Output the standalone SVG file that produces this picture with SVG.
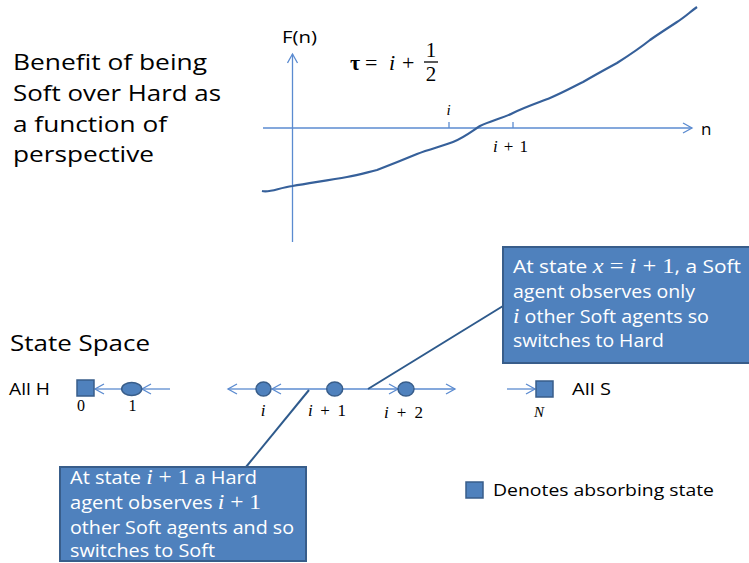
<svg xmlns="http://www.w3.org/2000/svg" width="749" height="563" viewBox="0 0 749 563">
<defs>
<style>
.t{font-family:"Open Sans","Liberation Sans",sans-serif;fill:#000}
.m{font-family:"Liberation Serif",serif;font-style:italic;fill:#000}
.mr{font-family:"Liberation Serif",serif;fill:#000}
.wt{font-family:"Open Sans","Liberation Sans",sans-serif;fill:#fff;font-size:18px}
.wm{font-family:"Liberation Serif",serif;fill:#fff;font-size:21px}
.ax{stroke:#5B8BD0;stroke-width:1.3;fill:none}
.ln{stroke:#5B8BD0;stroke-width:1.3;fill:none;marker-end:url(#ah)}
.node{fill:#4F81BD;stroke:#385D8A;stroke-width:1.5}
.box{fill:#4F81BD;stroke:#385D8A;stroke-width:2}
.lead{stroke:#2E5A8C;stroke-width:2;fill:none}
</style>
<marker id="ah" viewBox="-10 -6 12 12" markerWidth="12" markerHeight="12" refX="0" refY="0" orient="auto" markerUnits="userSpaceOnUse">
<path d="M-9,-5 L0,0 L-9,5" fill="none" stroke="#5B8BD0" stroke-width="1.3"/>
</marker>
</defs>
<rect width="749" height="563" fill="#fff"/>

<g id="title">
<text class="t" font-size="22" x="13" y="70" textLength="194" lengthAdjust="spacingAndGlyphs">Benefit of being</text>
<text class="t" font-size="22" x="13" y="101" textLength="208" lengthAdjust="spacingAndGlyphs">Soft over Hard as</text>
<text class="t" font-size="22" x="13" y="132" textLength="154" lengthAdjust="spacingAndGlyphs">a function of</text>
<text class="t" font-size="22" x="13" y="162" textLength="141" lengthAdjust="spacingAndGlyphs">perspective</text>
</g>

<g id="graph">
<line class="ln" x1="292.5" y1="242" x2="292.5" y2="54"/>
<line class="ln" x1="263" y1="128" x2="692" y2="128"/>
<line class="ax" x1="449" y1="122" x2="449" y2="128"/>
<line class="ax" x1="513" y1="122" x2="513" y2="128"/>
<text class="t" font-size="16" x="282" y="43" textLength="35" lengthAdjust="spacingAndGlyphs">F(n)</text>
<text class="t" font-size="17" x="701" y="135">n</text>
<text class="m" font-size="15" x="446.5" y="115">i</text>
<text class="m" font-size="17" x="493" y="152" textLength="35" lengthAdjust="spacing">i<tspan class="mr" font-style="normal"> + 1</tspan></text>
<text class="mr" font-size="22" x="350" y="70" font-weight="bold">τ</text>
<text class="mr" font-size="22" x="365" y="70">=</text>
<text class="m" font-size="22" x="389" y="70">i</text>
<text class="mr" font-size="22" x="402" y="70">+</text>
<text class="mr" font-size="21" x="431" y="57" text-anchor="middle">1</text>
<line x1="424" y1="62" x2="438" y2="62" stroke="#000" stroke-width="1.3"/>
<text class="mr" font-size="21" x="431" y="81" text-anchor="middle">2</text>
<path d="M262,191 C270,193 278,188 292.5,186 C310,183 330,180 347,177 C360,175 368,172 377,170 C390,165 405,159 417,154 C430,149 443,146 453,142 C465,137 472,131 480,126 C490,121 503,118 513,113 C525,107 540,102 550,98 C562,93 573,87 583,82 C595,75 606,69 617,63 C628,56 640,48 650,40 C660,33 668,28 677,22 C685,17 690,12 697,7" fill="none" stroke="#36609A" stroke-width="2.2"/>
</g>

<text id="ss" class="t" font-size="22" x="10" y="351" textLength="140" lengthAdjust="spacingAndGlyphs">State Space</text>

<g id="connectors">
<line class="ln" x1="170" y1="389" x2="142" y2="389"/>
<line class="ln" x1="122" y1="389" x2="95" y2="389"/>
<line class="ln" x1="256" y1="389" x2="228" y2="389"/>
<line class="ln" x1="326" y1="389" x2="272" y2="389"/>
<line class="ln" x1="343" y1="389" x2="398" y2="389"/>
<line class="ln" x1="414" y1="389" x2="455" y2="389"/>
<line class="ln" x1="507" y1="389" x2="535" y2="389"/>
<line class="lead" x1="368" y1="389" x2="503" y2="306"/>
<line class="lead" x1="309" y1="390" x2="246" y2="467"/>
</g>

<g id="node-allH">
<text class="t" font-size="17" x="9" y="395" textLength="41" lengthAdjust="spacingAndGlyphs">All H</text>
</g>
<g id="node-0">
<rect class="node" x="77" y="380" width="17" height="16"/>
<text class="mr" font-size="16" x="81" y="411" text-anchor="middle">0</text>
</g>
<g id="node-1">
<ellipse class="node" cx="131.7" cy="389" rx="10" ry="6.5"/>
<text class="mr" font-size="16" x="132.5" y="411" text-anchor="middle">1</text>
</g>
<g id="node-i">
<ellipse class="node" cx="263.5" cy="389" rx="7.5" ry="7"/>
<text class="m" font-size="17" x="263" y="416" text-anchor="middle">i</text>
</g>
<g id="node-i1">
<ellipse class="node" cx="334.7" cy="389" rx="8" ry="7"/>
<text class="m" font-size="17" x="308" y="416" textLength="38" lengthAdjust="spacing">i<tspan class="mr" font-style="normal"> + 1</tspan></text>
</g>
<g id="node-i2">
<ellipse class="node" cx="406" cy="389" rx="8" ry="7"/>
<text class="m" font-size="17" x="384" y="418" textLength="39" lengthAdjust="spacing">i<tspan class="mr" font-style="normal"> + 2</tspan></text>
</g>
<g id="node-N">
<rect class="node" x="536" y="381" width="17" height="16"/>
<text class="m" font-size="15" x="539" y="417" text-anchor="middle">N</text>
<text class="t" font-size="17" x="572" y="395" textLength="39" lengthAdjust="spacingAndGlyphs">All S</text>
</g>

<g id="callout-top">
<rect class="box" x="503" y="247" width="250" height="116"/>
<text class="wt" x="513" y="273" textLength="228" lengthAdjust="spacingAndGlyphs">At state <tspan class="wm" font-style="italic">x</tspan><tspan class="wm"> = </tspan><tspan class="wm" font-style="italic">i</tspan><tspan class="wm"> + 1</tspan>, a Soft</text>
<text class="wt" x="513" y="298" textLength="182" lengthAdjust="spacingAndGlyphs">agent observes only</text>
<text class="wt" x="513" y="323" textLength="196" lengthAdjust="spacingAndGlyphs"><tspan class="wm" font-style="italic">i</tspan> other Soft agents so</text>
<text class="wt" x="513" y="347" textLength="151" lengthAdjust="spacingAndGlyphs">switches to Hard</text>
</g>

<g id="callout-bottom">
<rect class="box" x="60" y="467" width="246" height="94"/>
<text class="wt" x="70" y="484" textLength="187" lengthAdjust="spacingAndGlyphs">At state <tspan class="wm" font-style="italic">i</tspan><tspan class="wm"> + 1</tspan> a Hard</text>
<text class="wt" x="70" y="509" textLength="191" lengthAdjust="spacingAndGlyphs">agent observes <tspan class="wm" font-style="italic">i</tspan><tspan class="wm"> + 1</tspan></text>
<text class="wt" x="70" y="534" textLength="224" lengthAdjust="spacingAndGlyphs">other Soft agents and so</text>
<text class="wt" x="70" y="557" textLength="145" lengthAdjust="spacingAndGlyphs">switches to Soft</text>
</g>

<g id="legend">
<rect class="node" x="466" y="482" width="17" height="16"/>
<text class="t" font-size="17" x="493" y="496" textLength="221" lengthAdjust="spacingAndGlyphs">Denotes absorbing state</text>
</g>
</svg>
